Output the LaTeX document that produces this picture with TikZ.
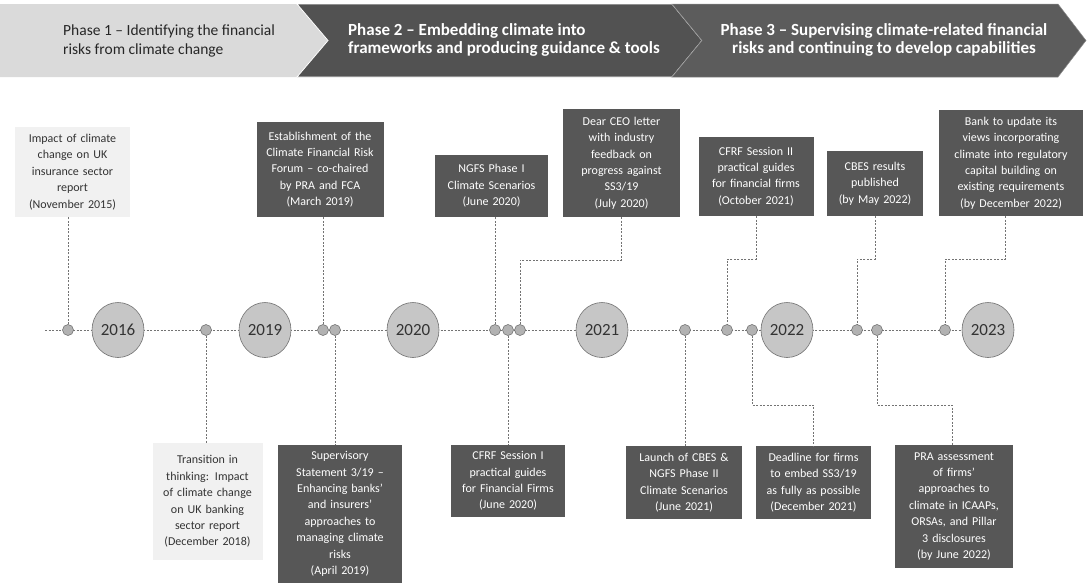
\documentclass[tikz,border=0pt]{standalone}
\usepackage{fontspec}
\setmainfont{Carlito}
\usetikzlibrary{shapes.geometric}
\definecolor{boxdark}{HTML}{575757}
\definecolor{boxlight}{HTML}{F1F1F1}
\definecolor{phaseone}{HTML}{DADADA}
\definecolor{phasetwo}{HTML}{525252}
\definecolor{phasethree}{HTML}{5C5C5C}
\definecolor{yearfill}{HTML}{C6C6C6}
\definecolor{smallfill}{HTML}{B2B2B2}
\begin{document}
\begin{tikzpicture}[x=1pt,y=-1pt,
  conn/.style={draw=black!55, line width=0.6pt, dash pattern=on 2pt off 1.5pt},
  boxtext/.style={font=\fontsize{12}{16.4}\selectfont, align=center, inner sep=0pt},
  dbox/.style={boxtext, fill=boxdark, text=white},
  lbox/.style={boxtext, fill=boxlight, text=black!80},
  yr/.style={ellipse, fill=yearfill, draw=black!55, line width=0.6pt, minimum width=52pt, minimum height=55pt, inner sep=0pt, font=\fontsize{17}{17}\selectfont, text=black!80},
  sm/.style={circle, fill=smallfill, draw=black!60, line width=0.5pt, minimum size=11pt, inner sep=0pt},
  phasetext/.style={font=\fontsize{15.5}{18.5}\selectfont, inner sep=0pt},
  phasebold/.style={font=\fontsize{17}{18.5}\selectfont\bfseries, inner sep=0pt, text=white}
]
\useasboundingbox (0,0) rectangle (1089,584);
\fill[white] (0,0) rectangle (1089,584);

% phase banner
\fill[phaseone] (0,4) -- (297,4) -- (328,40.5) -- (297,77) -- (0,77) -- cycle;
\filldraw[phasetwo, draw=white, line width=0.8pt] (297,4) -- (672,4) -- (702,40.5) -- (672,77) -- (297,77) -- (328,40.5) -- cycle;
\filldraw[phasethree, draw=black!45, line width=0.5pt] (672,4) -- (1058,4) -- (1086,40.5) -- (1058,77) -- (672,77) -- (702,40.5) -- cycle;
\node[phasetext, anchor=west, align=left, text=black!85] (p1) at (63,41) {Phase 1 -- Identifying the financial\\risks from climate change};
\node[phasebold, anchor=west, align=left] (p2) at (348,40) {Phase 2 -- Embedding climate into\\frameworks and producing guidance \& tools};
\node[phasebold, align=center] (p3) at (884,40) {Phase 3 -- Supervising climate-related financial\\risks and continuing to develop capabilities};

% timeline
\coordinate (tl0) at (45,330);
\coordinate (tl1) at (962,330);
\draw[conn] (tl0) -- (tl1);

% years
\node[yr] (y16) at (118,330) {2016};
\node[yr] (y19) at (265,330) {2019};
\node[yr] (y20) at (413,330) {2020};
\node[yr] (y21) at (602,330) {2021};
\node[yr] (y22) at (787,330) {2022};
\node[yr] (y23) at (988,330) {2023};

% small event markers
\node[sm] (s1) at (68,330) {};
\node[sm] (s2) at (206,330) {};
\node[sm] (s3) at (323,330) {};
\node[sm] (s4) at (335,330) {};
\node[sm] (s5) at (495,330) {};
\node[sm] (s6) at (508,330) {};
\node[sm] (s7) at (520,330) {};
\node[sm] (s8) at (685,330) {};
\node[sm] (s9) at (727,330) {};
\node[sm] (s10) at (752,330) {};
\node[sm] (s11) at (857,330) {};
\node[sm] (s12) at (877,330) {};
\node[sm] (s13) at (945,330) {};

% top boxes
\node[lbox, minimum width=115pt, minimum height=90pt, text width=112pt] (imp) at (72.5,172) {Impact of climate\\change on UK\\insurance sector\\report\\(November 2015)};
\node[dbox, minimum width=127pt, minimum height=95pt, text width=124pt] (est) at (320,169.5) {Establishment of the\\Climate Financial Risk\\Forum -- co-chaired\\by PRA and FCA\\(March 2019)};
\node[dbox, minimum width=113pt, minimum height=62pt, text width=110pt] (ngfs) at (491.5,186) {NGFS Phase I\\Climate Scenarios\\(June 2020)};
\node[dbox, minimum width=117pt, minimum height=108pt, text width=114pt] (ceo) at (621.5,163) {Dear CEO letter\\with industry\\feedback on\\progress against\\SS3/19\\(July 2020)};
\node[dbox, minimum width=115pt, minimum height=79pt, text width=112pt] (cfrf2) at (756,176.5) {CFRF Session II\\practical guides\\for financial firms\\(October 2021)};
\node[dbox, minimum width=96pt, minimum height=65pt, text width=94pt] (cbes) at (875,183.5) {CBES results\\published\\(by May 2022)};
\node[dbox, minimum width=144pt, minimum height=106pt, text width=140pt] (bank) at (1011,163) {Bank to update its\\views incorporating\\climate into regulatory\\capital building on\\existing requirements\\(by December 2022)};

% bottom boxes
\node[lbox, minimum width=110pt, minimum height=117pt, text width=106pt] (trans) at (207.5,501.5) {Transition in\\thinking: Impact\\of climate change\\on UK banking\\sector report\\(December 2018)};
\node[dbox, minimum width=124pt, minimum height=138pt, text width=120pt] (ss) at (340,514) {Supervisory\\Statement 3/19 --\\Enhancing banks'\\and insurers'\\approaches to\\managing climate\\risks\\(April 2019)};
\node[dbox, minimum width=114pt, minimum height=72pt, text width=111pt] (cfrf1) at (508,481) {CFRF Session I\\practical guides\\for Financial Firms\\(June 2020)};
\node[dbox, minimum width=116pt, minimum height=73pt, text width=113pt] (launch) at (684,482.5) {Launch of CBES \&\\NGFS Phase II\\Climate Scenarios\\(June 2021)};
\node[dbox, minimum width=115pt, minimum height=73pt, text width=112pt] (dead) at (813.5,482.5) {Deadline for firms\\to embed SS3/19\\as fully as possible\\(December 2021)};
\node[dbox, minimum width=118pt, minimum height=123pt, text width=115pt] (pra) at (954,506.5) {PRA assessment\\of firms'\\approaches to\\climate in ICAAPs,\\ORSAs, and Pillar\\3 disclosures\\(by June 2022)};

% bend points
\coordinate (kceo) at (621.5,260);
\coordinate (kcfrf2) at (756,259);
\coordinate (kcbes) at (875,259);
\coordinate (kbank) at (1005,259);
\coordinate (kbankt) at (1005,216);
\coordinate (kdead) at (813.5,405);
\coordinate (kpra) at (952,405);
\coordinate (kprab) at (952,445);

% connectors up
\draw[conn] (s1) -- (s1 |- imp.south);
\draw[conn] (s3) -- (s3 |- est.south);
\draw[conn] (s5) -- (s5 |- ngfs.south);
\draw[conn] (ceo.south) -- (kceo) -| (s7);
\draw[conn] (cfrf2.south) -- (kcfrf2) -| (s9);
\draw[conn] (cbes.south) -- (kcbes) -| (s11);
\draw[conn] (kbankt) -- (kbank) -| (s13);

% connectors down
\draw[conn] (s2) -- (s2 |- trans.north);
\draw[conn] (s4) -- (s4 |- ss.north);
\draw[conn] (s6) -- (s6 |- cfrf1.north);
\draw[conn] (s8) -- (s8 |- launch.north);
\draw[conn] (s10) |- (kdead) -- (dead.north);
\draw[conn] (s12) |- (kpra) -- (kprab);
\end{tikzpicture}
\end{document}
